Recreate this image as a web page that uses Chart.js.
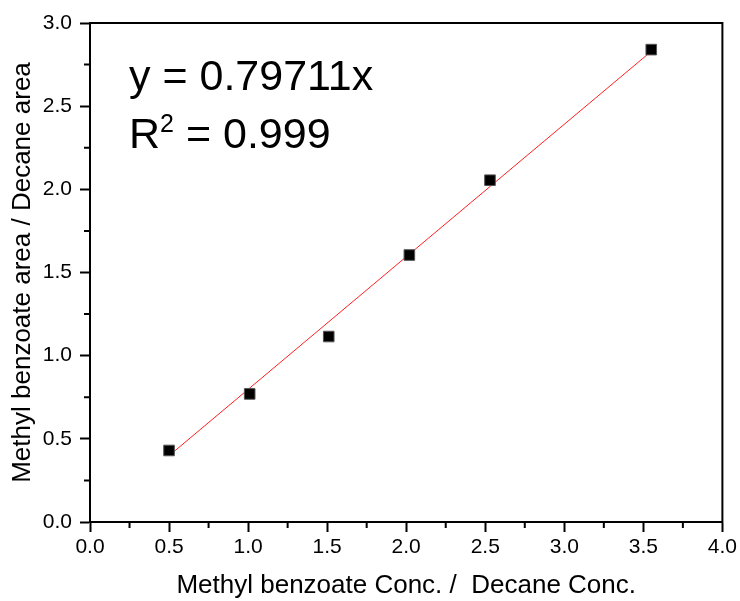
<!DOCTYPE html>
<html>
<head>
<meta charset="utf-8">
<script src="https://cdn.jsdelivr.net/npm/chart.js"></script>
<style>
  html, body { margin: 0; padding: 0; background: #fff; }
  #wrap { width: 740px; height: 601px; }
</style>
</head>
<body>
<div id="wrap"><canvas id="calib" width="740" height="601"></canvas></div>
<script>
// measured points
const concRatio = [0.5, 1.01, 1.51, 2.02, 2.53, 3.55];
const areaRatio = [0.43, 0.77, 1.115, 1.605, 2.055, 2.84];
// linear fit y = 0.79711x, drawn between first and last point
const fitX = [0.5, 3.55];
const fitY = [0.3986, 2.8297];
const xTicks = [0, 0.5, 1, 1.5, 2, 2.5, 3, 3.5, 4];
const yTicks = [0, 0.5, 1, 1.5, 2, 2.5, 3];

const FONT = '"Liberation Sans", Arial, sans-serif';

// top/right frame + minor ticks + fit equation
const framePlugin = {
  id: 'frame',
  afterDraw(chart) {
    const { ctx, chartArea: a, scales } = chart;
    ctx.save();
    ctx.strokeStyle = '#000';
    ctx.lineWidth = 2;
    ctx.beginPath();
    ctx.moveTo(a.left - 1, a.top);
    ctx.lineTo(a.right, a.top);
    ctx.lineTo(a.right, a.bottom + 1);
    ctx.stroke();

    // minor ticks halfway between labelled ones
    ctx.beginPath();
    for (let i = 0; i < xTicks.length - 1; i++) {
      const px = scales.x.getPixelForValue((xTicks[i] + xTicks[i + 1]) / 2);
      ctx.moveTo(px, a.bottom);
      ctx.lineTo(px, a.bottom + 6);
    }
    for (let i = 0; i < yTicks.length - 1; i++) {
      const py = scales.y.getPixelForValue((yTicks[i] + yTicks[i + 1]) / 2);
      ctx.moveTo(a.left, py);
      ctx.lineTo(a.left - 6, py);
    }
    ctx.stroke();

    ctx.fillStyle = '#000';
    ctx.textBaseline = 'alphabetic';
    ctx.textAlign = 'left';
    ctx.font = '43px ' + FONT;
    ctx.fillText('y = 0.79711x', 129, 90);
    ctx.fillText('R', 129, 148);
    const rw = ctx.measureText('R').width;
    ctx.font = '25px ' + FONT;
    ctx.fillText('2', 129 + rw, 132);
    const sw = ctx.measureText('2').width;
    ctx.font = '43px ' + FONT;
    ctx.fillText(' = 0.999', 129 + rw + sw, 148);
    ctx.restore();
  }
};

new Chart(document.getElementById('calib'), {
  type: 'scatter',
  data: {
    datasets: [
      {
        label: 'data',
        data: concRatio.map((x, i) => ({ x: x, y: areaRatio[i] })),
        pointStyle: 'rect',
        pointRadius: 7.5,
        backgroundColor: '#000',
        borderColor: '#555',
        borderWidth: 1,
        order: 1
      },
      {
        label: 'fit',
        type: 'line',
        data: fitX.map((x, i) => ({ x: x, y: fitY[i] })),
        borderColor: '#ff2020',
        borderWidth: 1,
        pointRadius: 0,
        fill: false,
        order: 2
      }
    ]
  },
  options: {
    responsive: false,
    animation: false,
    layout: { autoPadding: false, padding: { left: 0, top: 23, right: 17, bottom: 0 } },
    plugins: { legend: { display: false }, tooltip: { enabled: false } },
    scales: {
      x: {
        type: 'linear',
        min: 0, max: 4,
        afterBuildTicks: s => { s.ticks = xTicks.map(v => ({ value: v })); },
        afterFit: s => { s.height = 79; },
        grid: { drawOnChartArea: false, drawTicks: true, tickLength: 10, tickWidth: 2, tickColor: '#000' },
        border: { display: true, width: 2, color: '#000' },
        ticks: {
          color: '#000', padding: 3, maxRotation: 0,
          font: { family: FONT, size: 21 },
          callback: v => Number(v).toFixed(1)
        },
        title: {
          display: true,
          text: 'Methyl benzoate Conc. /  Decane Conc.',
          color: '#000',
          font: { family: FONT, size: 26 },
          padding: { top: 0, bottom: 0 }
        }
      },
      y: {
        type: 'linear',
        min: 0, max: 3,
        afterBuildTicks: s => { s.ticks = yTicks.map(v => ({ value: v })); },
        afterFit: s => { s.width = 90; },
        grid: { drawOnChartArea: false, drawTicks: true, tickLength: 10, tickWidth: 2, tickColor: '#000' },
        border: { display: true, width: 2, color: '#000' },
        ticks: {
          color: '#000', padding: 8,
          font: { family: FONT, size: 21 },
          callback: v => Number(v).toFixed(1)
        },
        title: {
          display: true,
          text: 'Methyl benzoate area / Decane area',
          color: '#000',
          font: { family: FONT, size: 26 },
          padding: { top: 7, bottom: 0 }
        }
      }
    }
  },
  plugins: [framePlugin]
});
</script>
</body>
</html>
